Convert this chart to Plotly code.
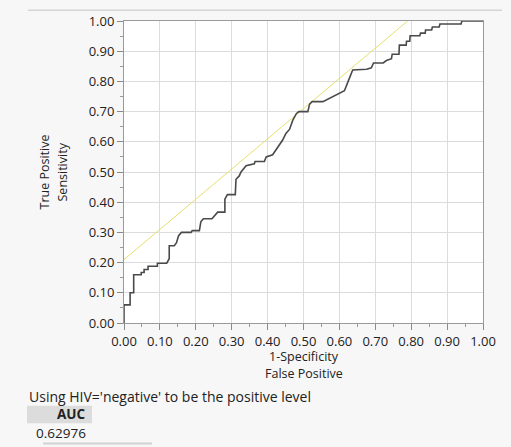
import plotly.graph_objects as go

# ROC curve vertices (1-Specificity, Sensitivity)
fpr = [0, 0, 0.017, 0.017, 0.027, 0.027, 0.048, 0.048, 0.056, 0.056, 0.067, 0.067,
       0.093, 0.093, 0.119, 0.126, 0.126, 0.14, 0.146, 0.152, 0.160, 0.187, 0.19,
       0.21, 0.214, 0.221, 0.245, 0.261, 0.281, 0.281, 0.288, 0.310, 0.312, 0.321,
       0.326, 0.340, 0.363, 0.365, 0.391, 0.396, 0.414, 0.433, 0.442, 0.451, 0.461,
       0.47, 0.48, 0.487, 0.512, 0.517, 0.524, 0.554, 0.599, 0.614, 0.623, 0.637,
       0.676, 0.689, 0.695, 0.722, 0.731, 0.745, 0.747, 0.766, 0.767, 0.786, 0.787,
       0.796, 0.797, 0.824, 0.826, 0.839, 0.840, 0.857, 0.859, 0.878, 0.880, 0.939,
       0.941, 1.0]
tpr = [0, 0.06, 0.06, 0.10, 0.10, 0.16, 0.16, 0.167, 0.167, 0.177, 0.177, 0.188,
       0.188, 0.198, 0.198, 0.213, 0.256, 0.256, 0.265, 0.289, 0.30, 0.30, 0.306,
       0.306, 0.335, 0.345, 0.345, 0.367, 0.367, 0.41, 0.425, 0.425, 0.476, 0.487,
       0.50, 0.521, 0.527, 0.535, 0.535, 0.55, 0.557, 0.59, 0.606, 0.628, 0.641,
       0.671, 0.693, 0.70, 0.70, 0.725, 0.733, 0.733, 0.762, 0.769, 0.796, 0.838,
       0.840, 0.845, 0.861, 0.861, 0.869, 0.875, 0.89, 0.89, 0.92, 0.92, 0.933,
       0.933, 0.951, 0.951, 0.96, 0.96, 0.97, 0.97, 0.98, 0.98, 0.99, 0.99,
       1.0, 1.0]

# Tangent line (slope 1)
tan_x = [0.0, 0.79]
tan_y = [0.21, 1.0]

tick_vals = [i / 10 for i in range(11)]
tick_text = ["%.2f" % v for v in tick_vals]

auc_label = "AUC"
auc_value = "0.62976"
note = "Using HIV='negative' to be the positive level"

W, H = 511, 447
L, R, T, B = 124, 28, 16, 124
PW, PH = W - L - R, H - T - B


def px(x):
    return (x - L) / PW


def py(y):
    return (H - B - y) / PH


FONT = "Open Sans"
TXT = "#222222"

fig = go.Figure()
fig.add_trace(go.Scatter(x=tan_x, y=tan_y, mode="lines",
                         line=dict(color="#e6df6e", width=1), hoverinfo="skip",
                         cliponaxis=False))
fig.add_trace(go.Scatter(x=fpr, y=tpr, mode="lines",
                         line=dict(color="#4a4a4a", width=1.6), cliponaxis=False))

axis_common = dict(range=[0, 1], tickvals=tick_vals, ticktext=tick_text,
                   showgrid=True, gridcolor="#dcdcdc", gridwidth=1,
                   showline=True, linecolor="#9a9a9a", linewidth=1, mirror=True,
                   ticks="outside", ticklen=6, tickcolor="#8a8a8a",
                   tickfont=dict(family=FONT, size=13, color=TXT),
                   zeroline=False, fixedrange=True,
                   minor=dict(dtick=0.05, tick0=0, ticks="outside", ticklen=3,
                              tickcolor="#9a9a9a", showgrid=False))

fig.update_layout(
    width=W, height=H,
    margin=dict(l=L, r=R, t=T, b=B, pad=0),
    paper_bgcolor="#f7f7f7", plot_bgcolor="#ffffff",
    showlegend=False,
    xaxis=axis_common,
    yaxis=axis_common,
    font=dict(family=FONT, color=TXT),
)

ann = []
# axis titles
ann.append(dict(x=px(304), y=py(357), text="1-Specificity", showarrow=False,
                xref="paper", yref="paper", font=dict(size=12.5, family=FONT, color=TXT),
                xanchor="center", yanchor="middle", borderpad=0))
ann.append(dict(x=px(304), y=py(374), text="False Positive", showarrow=False,
                xref="paper", yref="paper", font=dict(size=12.5, family=FONT, color=TXT),
                xanchor="center", yanchor="middle", borderpad=0))
ann.append(dict(x=px(44), y=py(170), text="True Positive", showarrow=False, textangle=-90,
                xref="paper", yref="paper", font=dict(size=12.5, family=FONT, color=TXT),
                xanchor="center", yanchor="middle"))
ann.append(dict(x=px(62), y=py(170), text="Sensitivity", showarrow=False, textangle=-90,
                xref="paper", yref="paper", font=dict(size=12.5, family=FONT, color=TXT),
                xanchor="center", yanchor="middle"))
# note and AUC table
ann.append(dict(x=px(27), y=py(398), text=note, showarrow=False,
                xref="paper", yref="paper", font=dict(size=14, family=FONT, color=TXT),
                xanchor="left", yanchor="middle"))
ann.append(dict(x=px(88), y=py(416), text="<b>" + auc_label + "</b>", showarrow=False,
                xref="paper", yref="paper", font=dict(size=13.5, family=FONT, color=TXT),
                xanchor="right", yanchor="middle"))
ann.append(dict(x=px(88), y=py(435), text=auc_value, showarrow=False,
                xref="paper", yref="paper", font=dict(size=13.5, family=FONT, color=TXT),
                xanchor="right", yanchor="middle"))
fig.update_layout(annotations=ann)

shapes = []
shapes.append(dict(type="rect", xref="paper", yref="paper", layer="below",
                   x0=px(27), x1=px(92), y0=py(407), y1=py(425),
                   fillcolor="#dcdcdc", line=dict(width=0)))
shapes.append(dict(type="line", xref="paper", yref="paper",
                   x0=px(28), x1=px(502), y0=py(5), y1=py(5),
                   line=dict(color="#c4c4c4", width=1)))
shapes.append(dict(type="line", xref="paper", yref="paper",
                   x0=px(43), x1=px(152), y0=py(445.5), y1=py(445.5),
                   line=dict(color="#d2d2d2", width=2)))
fig.update_layout(shapes=shapes)

fig.write_html("out.html", config={"displayModeBar": False},
               post_script="document.body.style.margin='0';document.body.style.overflow='hidden';")
